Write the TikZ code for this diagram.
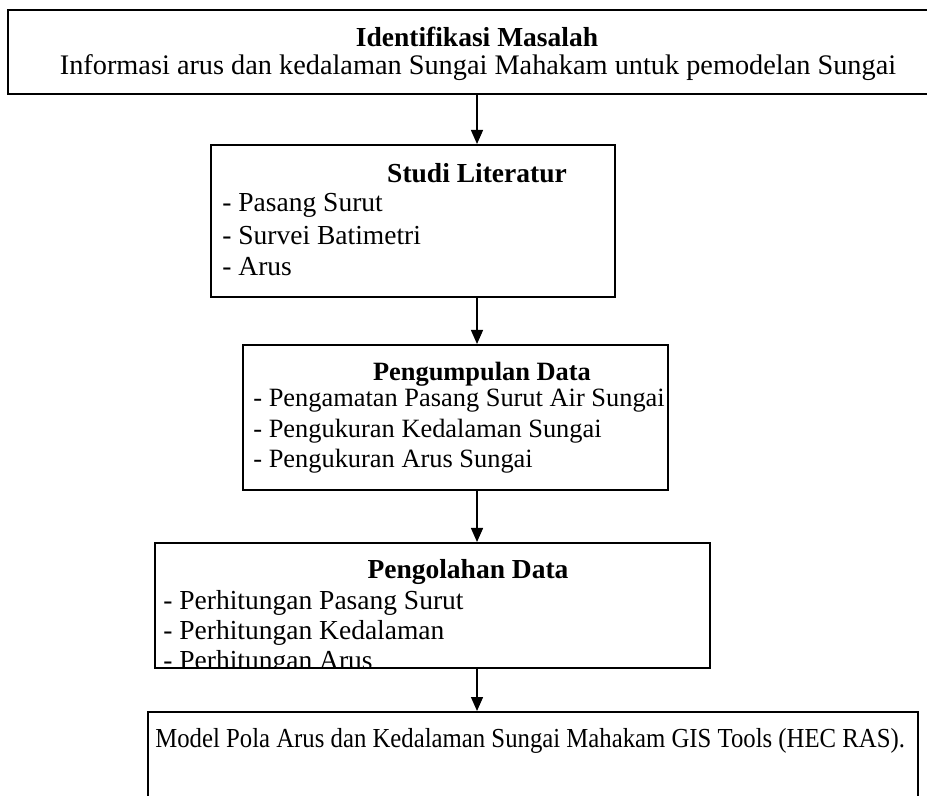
\documentclass[tikz,border=0pt]{standalone}
\usepackage{fontspec}
\setmainfont{Liberation Serif}
\usetikzlibrary{positioning,arrows.meta,fit}

\begin{document}
\begin{tikzpicture}[
    x=0.5pt, y=-0.5pt,
    >={Triangle[length=7pt,width=6pt]},
    stage box/.style={draw, line width=1pt, inner sep=0pt},
    head text/.style={font=\fontsize{#1}{15}\selectfont\bfseries, inner sep=0pt},
    head text/.default=13.75,
    plain text/.style={font=\fontsize{#1}{15}\selectfont, inner sep=0pt},
    plain text/.default=13.75,
    item text/.style={plain text=#1, anchor=west},
    item text/.default=13.75,
    flow/.style={->, line width=0.7pt}
]
    \useasboundingbox (0,0) rectangle (927,796);
    \coordinate (axis) at (477,0);

    % Identifikasi Masalah
    \node[stage box, line width=1.3pt, fit={(8,10) (940,94)}] (masalah) {};
    \node[head text] (masalah-t) at (477,37) {Identifikasi Masalah};
    \node[plain text=14.15] (masalah-s) at (478,68) {Informasi arus dan kedalaman Sungai Mahakam untuk pemodelan Sungai};

    % Studi Literatur
    \node[stage box, fit={(211,145) (615,297)}] (lit) {};
    \node[head text] (lit-t) at (477,173) {Studi Literatur};
    \foreach \i/\lab in {1/Pasang Surut, 2/Survei Batimetri, 3/Arus}
      \node[item text] (lit-\i) at (222, 175+\i*30.5) {- \lab};

    % Pengumpulan Data
    \node[stage box, fit={(243,345) (668,490)}] (kumpul) {};
    \node[head text=13.2] (kumpul-t) at (482,374) {Pengumpulan Data};
    \foreach \i/\lab in {1/Pengamatan Pasang Surut Air Sungai, 2/Pengukuran Kedalaman Sungai, 3/Pengukuran Arus Sungai}
      \node[item text=13.2] (kumpul-\i) at (253, 371+\i*30) {- \lab};

    % Pengolahan Data
    \node[stage box, fit={(155,543) (710,668)}] (olah) {};
    \node[head text] (olah-t) at (468,572) {Pengolahan Data};
    \begin{scope}
      \clip (155,543) rectangle (710,668);
      \foreach \i/\lab in {1/Perhitungan Pasang Surut, 2/Perhitungan Kedalaman, 3/Perhitungan Arus}
        \node[item text] (olah-\i) at (163, 573+\i*30) {- \lab};
    \end{scope}

    % Model
    \node[stage box, fit={(148,712) (918,810)}] (model) {};
    \node[plain text, anchor=west, xscale=0.9] (model-t) at (155,741) {Model Pola Arus dan Kedalaman Sungai Mahakam GIS Tools (HEC RAS).};

    % alur
    \draw[flow] (masalah.south -| axis) -- (lit.north -| axis);
    \draw[flow] (lit.south -| axis) -- (kumpul.north -| axis);
    \draw[flow] (kumpul.south -| axis) -- (olah.north -| axis);
    \draw[flow] (olah.south -| axis) -- (model.north -| axis);
\end{tikzpicture}
\end{document}
